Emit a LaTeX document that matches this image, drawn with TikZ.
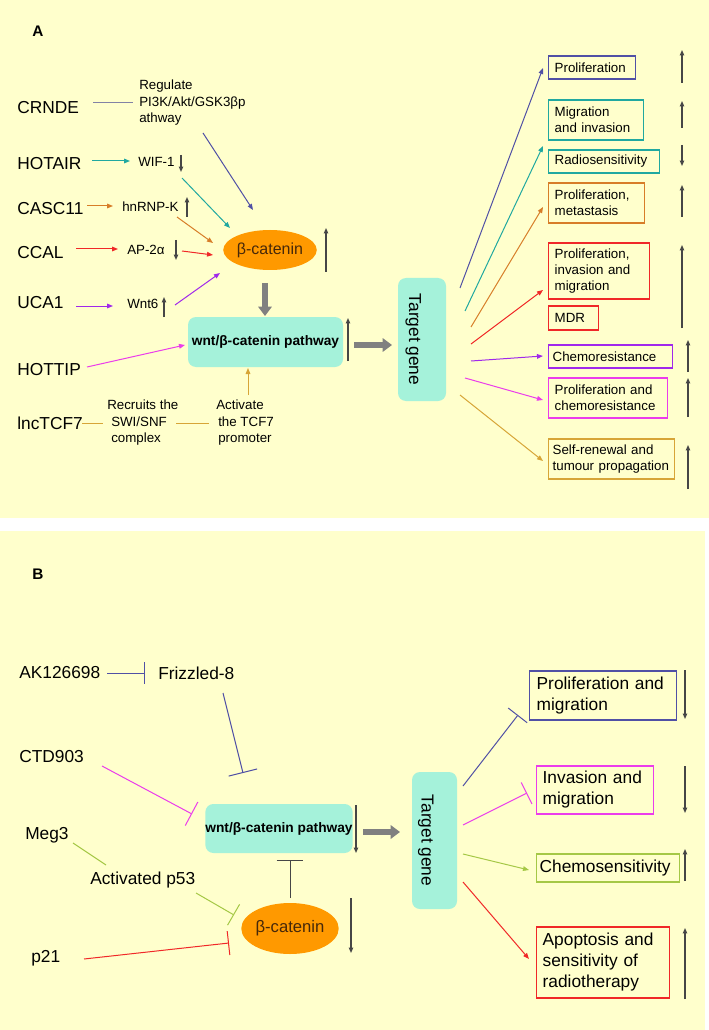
\documentclass[tikz,border=0pt]{standalone}
\usepackage{fontspec}
\setmainfont{Liberation Sans}
\usepackage{graphicx}
\usetikzlibrary{arrows.meta,shapes.geometric}
\definecolor{bgy}{RGB}{255,255,204}
\definecolor{aqua}{RGB}{165,242,218}
\definecolor{orfill}{RGB}{255,153,0}
\definecolor{slateA}{RGB}{80,80,165}
\definecolor{slateL}{RGB}{130,130,165}
\definecolor{tealA}{RGB}{32,168,160}
\definecolor{orA}{RGB}{215,125,40}
\definecolor{redA}{RGB}{240,40,40}
\definecolor{violA}{RGB}{160,40,235}
\definecolor{magA}{RGB}{235,60,235}
\definecolor{goldA}{RGB}{215,165,55}
\definecolor{grnB}{RGB}{165,200,70}
\definecolor{thickg}{RGB}{128,128,128}
\definecolor{indg}{RGB}{70,70,70}
\definecolor{catT}{RGB}{70,40,10}
\begin{document}
\begin{tikzpicture}[x=0.75pt,y=-0.75pt,
  big/.style={font=\fontsize{13}{15.6}\selectfont, inner sep=0pt, anchor=west},
  sml/.style={font=\fontsize{10}{12.4}\selectfont, inner sep=0pt, anchor=west},
  ln/.style={line width=0.75pt},
  arr/.style={line width=0.75pt, -{Triangle[length=4.5pt,width=3.5pt]}},
  inh/.style={line width=0.75pt, -{Bar[width=#1]}}, inh/.default=18pt,
  ind/.style={line width=0.9pt, draw=indg, -{Triangle[length=4pt,width=3.2pt]}},
  fat/.style={draw=thickg, line width=4pt, -{Triangle[length=7pt,width=10pt]}},
  plab/.style={font=\fontsize{11.5}{14}\selectfont\bfseries, inner sep=0pt},
  cat/.style={ellipse, fill=orfill, inner sep=0pt, text=catT, font=\fontsize{12}{14}\selectfont},
  wntbox/.style={rounded corners=6pt, fill=aqua, inner sep=0pt, font=\fontsize{10.3}{12}\selectfont\bfseries},
  tgbox/.style={rounded corners=6pt, fill=aqua, rotate=-90, inner sep=0pt, font=\fontsize{13}{15.6}\selectfont, text height=22pt, text depth=2.7pt},
  rbox/.style={draw, line width=1pt, anchor=west, inner ysep=0pt, align=left},
  boxA/.style={rbox, font=\fontsize{10}{12}\selectfont},
  boxB/.style={rbox, font=\fontsize{13}{15.75}\selectfont}
]
\useasboundingbox (0,0) rectangle (709,1030);
\fill[bgy] (0,0) rectangle (709,518);
\fill[bgy] (0,531) rectangle (705,1030);

% ---------------- Panel A ----------------
\node[plab] (pa) at (38,31) {A};
\node[big] (crnde) at (17,108) {CRNDE};
\node[big] (hotair) at (17,164) {HOTAIR};
\node[big] (casc) at (17,209) {CASC11};
\node[big] (ccal) at (17,253) {CCAL};
\node[big] (uca) at (17,303) {UCA1};
\node[big] (hottip) at (17,370) {HOTTIP};
\node[big] (lnc) at (17,423) {lncTCF7};
\node[sml, anchor=north west, align=left] (reg) at (139,80) {Regulate\\PI3K/Akt/GSK3βp\\athway};
\node[sml] (wif) at (138,162) {WIF-1};
\node[sml] (hnrnp) at (122,207) {hnRNP-K};
\node[sml] (ap2) at (127,250) {AP-2α};
\node[sml] (wnt6) at (127,304) {Wnt6};
\node[sml, align=left] (recr) at (107,423) {Recruits the\\\hspace*{3pt}SWI/SNF\\\hspace*{3pt}complex};
\node[sml, align=left] (activ) at (216,423) {Activate\\\hspace*{1.5pt}the TCF7\\\hspace*{1.5pt}promoter};
\node[cat, minimum width=66pt, minimum height=30pt] (catA) at (270,250) {β-catenin};
\node[wntbox, minimum width=116.25pt, minimum height=37.5pt] (wntA) at (265.5,342) {wnt/β-catenin pathway};
\node[tgbox, minimum width=92.25pt, minimum height=36pt] (tgA) at (422,339.5) {Target gene\hspace{10.5pt}};

\node[boxA, draw=slateA, inner xsep=4.5pt, text width=56.25pt, minimum height=17.25pt] (b1) at (548,67.5) {Proliferation};
\node[boxA, draw=tealA, inner xsep=4.5pt, text width=62.25pt, minimum height=30pt] (b2) at (548,120) {Migration\\and invasion};
\node[boxA, draw=tealA, inner xsep=4.5pt, text width=74.25pt, minimum height=17.25pt] (b3) at (548,161.5) {Radiosensitivity};
\node[boxA, draw=orA, inner xsep=4.5pt, text width=63pt, minimum height=30pt] (b4) at (548,203) {Proliferation,\\metastasis};
\node[boxA, draw=redA, inner xsep=4.5pt, text width=66.75pt, minimum height=42pt] (b5) at (548,271) {Proliferation,\\invasion and\\migration};
\node[boxA, draw=redA, inner xsep=4.5pt, text width=28.5pt, minimum height=18pt] (b6) at (548,318) {MDR};
\node[boxA, draw=violA, inner xsep=3pt, text width=87pt, minimum height=17.25pt] (b7) at (548,356.5) {Chemoresistance};
\node[boxA, draw=magA, inner xsep=4.5pt, text width=80.25pt, minimum height=30pt] (b8) at (548,398) {Proliferation and\\chemoresistance};
\node[boxA, draw=goldA, inner xsep=3pt, text width=88.5pt, minimum height=30pt] (b9) at (548,459) {Self-renewal and\\tumour propagation};

\draw[ln, draw=slateL] ([shift={(76,-5)}]crnde.west) -- ([shift={(-6,23)}]reg.north west);
\draw[arr, slateA] ([shift={(64,53)}]reg.north west) -- ([shift={(-17,-40)}]catA.center);
\draw[arr, tealA] ([shift={(75,-3)}]hotair.west) -- ([shift={(-8,-1)}]wif.west);
\draw[arr, tealA] ([shift={(44,16)}]wif.west) -- ([shift={(-40,-22)}]catA.center);
\draw[arr, orA] ([shift={(70,-3)}]casc.west) -- ([shift={(-9,-1)}]hnrnp.west);
\draw[arr, orA] ([shift={(55,10)}]hnrnp.west) -- ([shift={(-57,-7)}]catA.center);
\draw[arr, redA] ([shift={(59,-4)}]ccal.west) -- ([shift={(-9,-1)}]ap2.west);
\draw[arr, redA] ([shift={(55,1)}]ap2.west) -- ([shift={(-57,5)}]catA.center);
\draw[arr, violA] ([shift={(59,3)}]uca.west) -- ([shift={(-14,2)}]wnt6.west);
\draw[arr, violA] ([shift={(48,1)}]wnt6.west) -- ([shift={(-50,23)}]catA.center);
\draw[arr, magA] ([shift={(70,-3)}]hottip.west) -- ([shift={(-80.5,3)}]wntA.center);
\draw[ln, goldA] ([shift={(65,0)}]lnc.west) -- ([shift={(-4,0)}]recr.west);
\draw[ln, goldA] ([shift={(69,0)}]recr.west) -- ([shift={(-7,0)}]activ.west);
\draw[arr, goldA] ([shift={(32,-28)}]activ.west) -- ([shift={(-17.5,26)}]wntA.center);
\draw[fat] ([shift={(-5,33)}]catA.center) -- ([shift={(-0.5,-26)}]wntA.center);
\draw[fat] ([shift={(88.5,3)}]wntA.center) -- ([shift={(-30,5.5)}]tgA.center);

\draw[arr, slateA] ([shift={(38,-51.5)}]tgA.center) -- ([shift={(-5,0.5)}]b1.west);
\draw[arr, tealA] ([shift={(43,-28.5)}]tgA.center) -- ([shift={(-5,26)}]b2.west);
\draw[arr, orA] ([shift={(49,-12.5)}]tgA.center) -- ([shift={(-5,4)}]b4.west);
\draw[arr, redA] ([shift={(49,4.5)}]tgA.center) -- ([shift={(-5,19)}]b5.west);
\draw[arr, violA] ([shift={(49,21.5)}]tgA.center) -- ([shift={(-5,-0.5)}]b7.west);
\draw[arr, magA] ([shift={(43,38.5)}]tgA.center) -- ([shift={(-5,2)}]b8.west);
\draw[arr, goldA] ([shift={(38,55.5)}]tgA.center) -- ([shift={(-5,2)}]b9.west);

\draw[ind] (181,155) -- (181,172);
\draw[ind] (187,217) -- (187,197);
\draw[ind] (176,240) -- (176,260);
\draw[ind] (164,317) -- (164,297);
\draw[ind] (326,272) -- (326,228);
\draw[ind] (348,361) -- (348,318);
\draw[ind] (682,83) -- (682,50);
\draw[ind] (682,128) -- (682,101);
\draw[ind] (682,145) -- (682,166);
\draw[ind] (682,217) -- (682,185);
\draw[ind] (682,328) -- (682,245);
\draw[ind] (688,372) -- (688,340);
\draw[ind] (688,417) -- (688,378);
\draw[ind] (688,489) -- (688,445);

% ---------------- Panel B ----------------
\node[plab] (pb) at (38,574) {B};
\node[big] (ak) at (19,673) {AK126698};
\node[big] (friz) at (158,673) {Frizzled-8};
\node[big] (ctd) at (19,757) {CTD903};
\node[big] (meg) at (25,835) {Meg3};
\node[big] (p53) at (90,880) {Activated p53};
\node[big] (p21) at (31,958) {p21};
\node[wntbox, minimum width=108pt, minimum height=36.75pt] (wntB) at (279,828.5) {wnt/β-catenin pathway};
\node[cat, minimum width=66pt, minimum height=38.25pt, font=\fontsize{12.5}{15}\selectfont] (catB) at (290,928.5) {β-catenin};
\node[tgbox, minimum width=102.75pt, minimum height=33.75pt] (tgB) at (434.5,840.5) {Target gene\hspace{10.5pt}};

\node[boxB, draw=slateA, inner xsep=5.25pt, text width=99.75pt, minimum height=36.75pt] (c1) at (529,695.5) {Proliferation and\\migration};
\node[boxB, draw=magA, inner xsep=4.5pt, text width=78.75pt, minimum height=36pt] (c2) at (536,790) {Invasion and\\migration};
\node[boxB, draw=grnB, inner xsep=2.25pt, text width=102.75pt, minimum height=21pt] (c3) at (536,868) {Chemosensitivity};
\node[boxB, draw=redA, inner xsep=4.5pt, text width=90.75pt, minimum height=53.25pt] (c4) at (536,962.5) {Apoptosis and\\sensitivity of\\radiotherapy};

\draw[inh=16.5pt, slateA] ([shift={(88,0)}]ak.west) -- ([shift={(-13,0)}]friz.west);
\draw[inh=22pt, slateA] ([shift={(65,20)}]friz.west) -- ([shift={(-36,-55.5)}]wntB.center);
\draw[inh=20pt, magA] ([shift={(83,9)}]ctd.west) -- ([shift={(-87,-14.5)}]wntB.center);
\draw[ln, grnB] ([shift={(48,8)}]meg.west) -- ([shift={(16,-15)}]p53.west);
\draw[inh, grnB] ([shift={(106,13)}]p53.west) -- ([shift={(-56,-13.5)}]catB.center);
\draw[inh, redA] ([shift={(53,1)}]p21.west) -- ([shift={(-61,14.5)}]catB.center);
\draw[inh=20pt, draw=indg] ([shift={(0,-30.5)}]catB.center) -- ([shift={(11,31.5)}]wntB.center);
\draw[fat] ([shift={(84,3.5)}]wntB.center) -- ([shift={(-34.5,-8.5)}]tgB.center);
\draw[inh, slateA] ([shift={(28.5,-54.5)}]tgB.center) -- ([shift={(-11,19.5)}]c1.west);
\draw[inh, magA] ([shift={(28.5,-15.5)}]tgB.center) -- ([shift={(-9,3)}]c2.west);
\draw[arr, grnB] ([shift={(28.5,13.5)}]tgB.center) -- ([shift={(-7,2)}]c3.west);
\draw[arr, redA] ([shift={(28.5,41.5)}]tgB.center) -- ([shift={(-7,-3.5)}]c4.west);

\draw[ind] (356,805) -- (356,853);
\draw[ind] (351,898) -- (351,953);
\draw[ind] (685,670) -- (685,719);
\draw[ind] (685,766) -- (685,813);
\draw[ind] (685,881) -- (685,849);
\draw[ind] (685,999) -- (685,928);
\end{tikzpicture}
\end{document}
